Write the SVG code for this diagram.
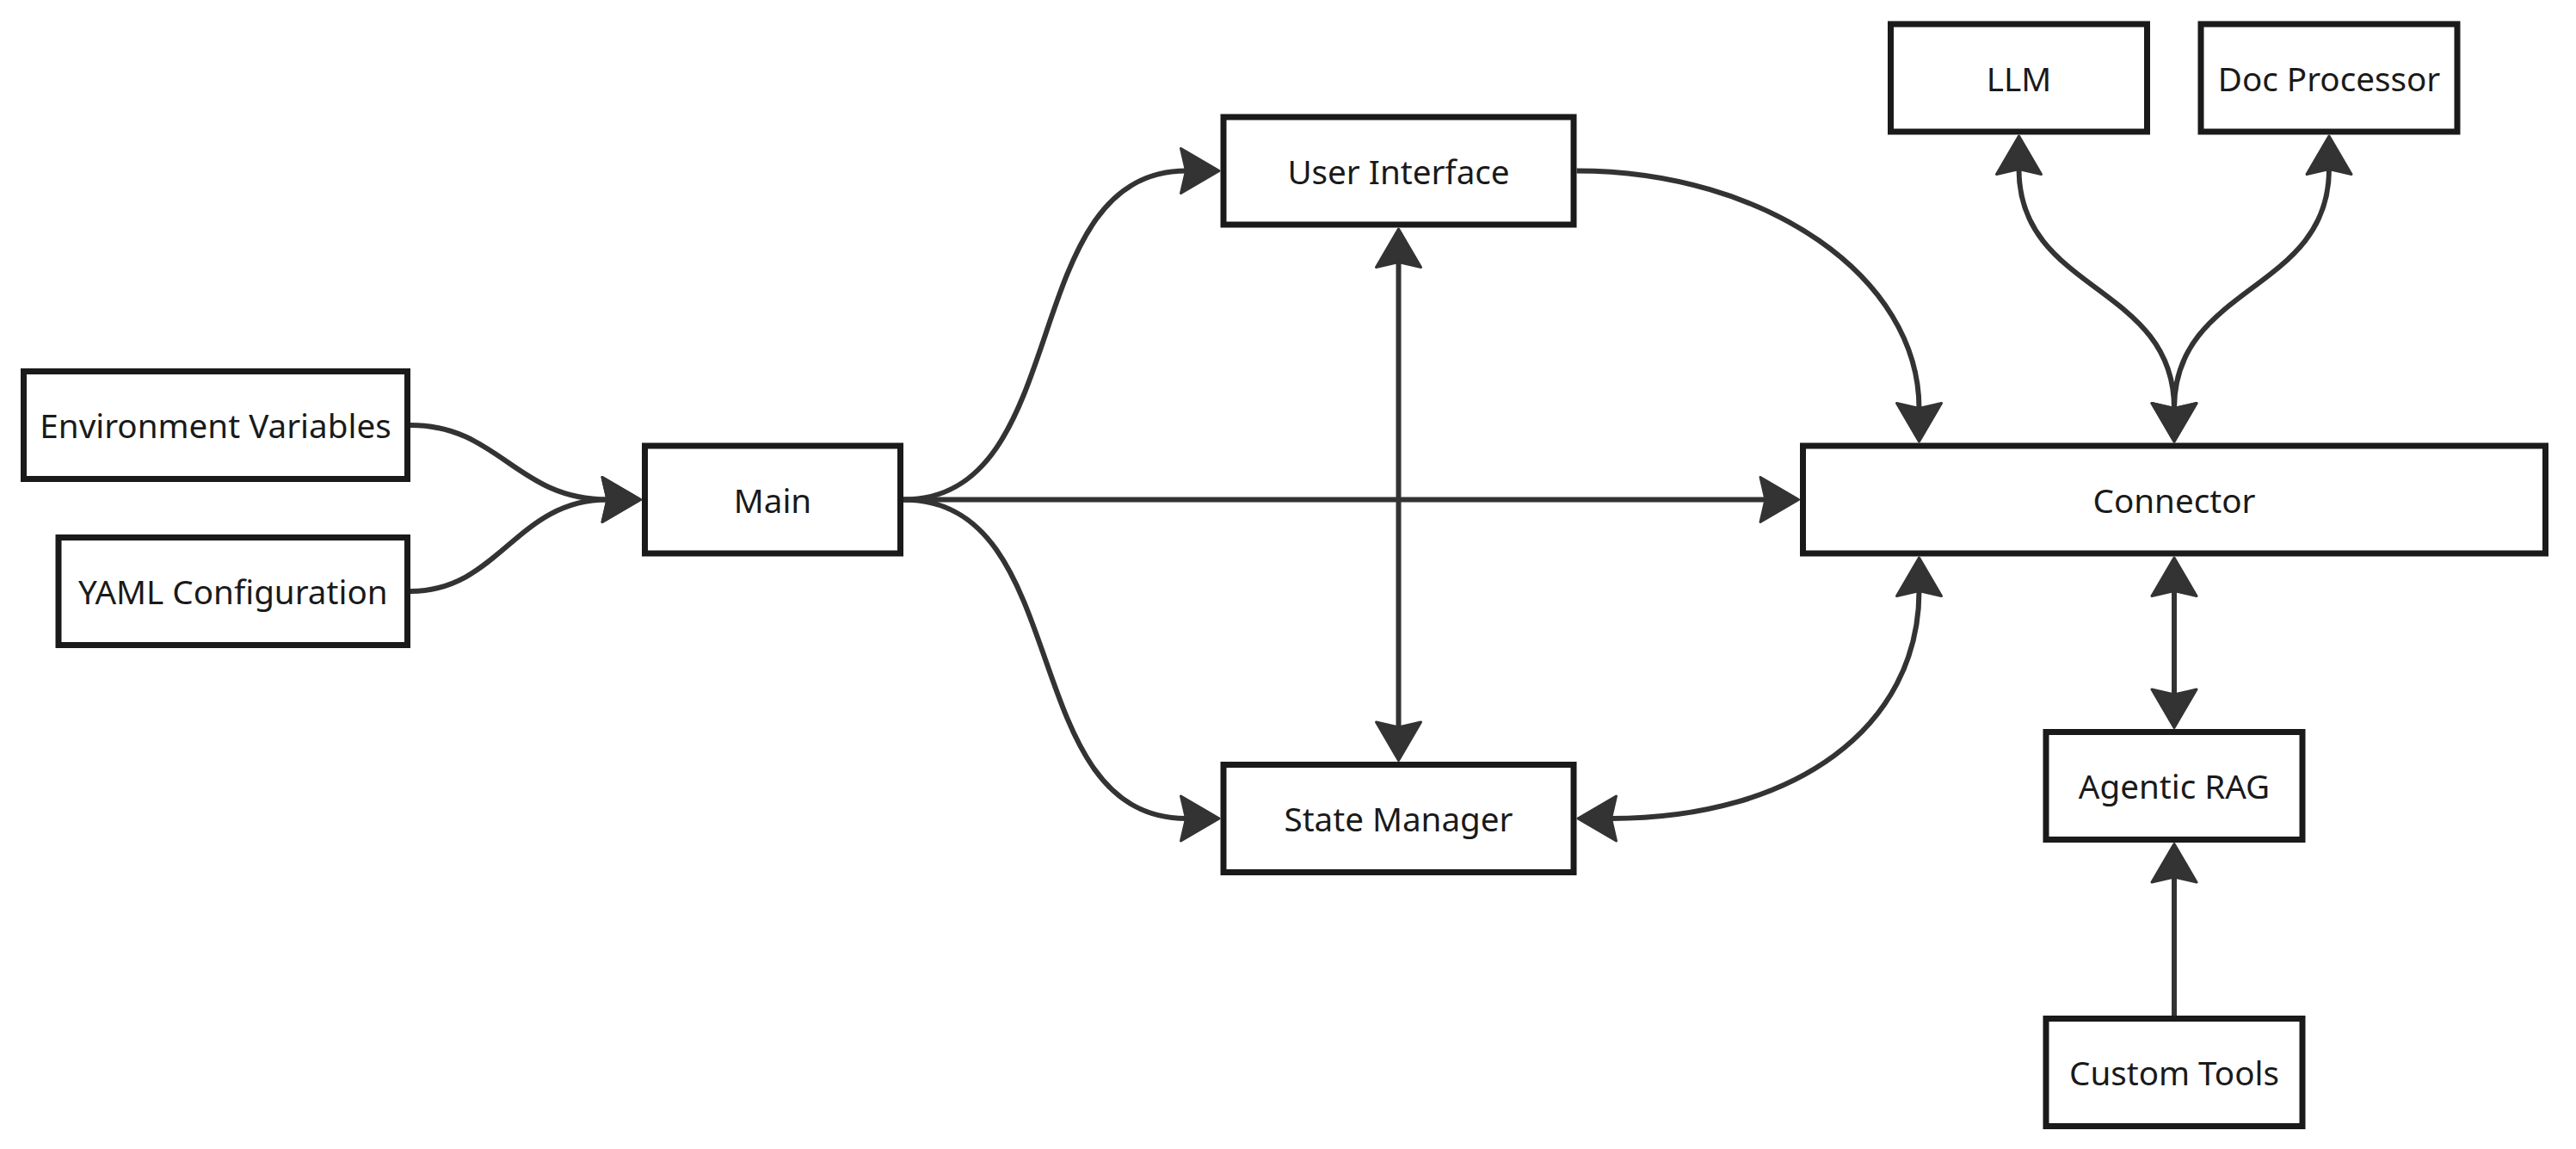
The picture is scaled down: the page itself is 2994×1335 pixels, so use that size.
<svg xmlns="http://www.w3.org/2000/svg" width="2994" height="1335" viewBox="0 0 2994 1335">
<style>
.node rect{fill:#ffffff;stroke:#1a1a1a;stroke-width:7}
.node text{font-family:"Noto Sans","Open Sans","DejaVu Sans",sans-serif;font-size:38.6px;fill:#1a1a1a;text-anchor:middle}
.edge{fill:none;stroke:#333333;stroke-width:6}
</style>
<defs>
<marker id="arrow" markerUnits="userSpaceOnUse" viewBox="-10 -30 55 60" markerWidth="55" markerHeight="60" refX="0" refY="0" orient="auto-start-reverse">
<path d="M-6,-26 L38.5,0 L-6,26 L0,0 Z" fill="#333333" stroke="#333333" stroke-width="3" stroke-linejoin="round"/>
</marker>
</defs>
<rect width="2994" height="1335" fill="#ffffff"/>
<g id="nodes">
<g id="env" class="node"><rect x="27.5" y="431.5" width="446" height="125"/><text x="250.5" y="509">Environment Variables</text></g>
<g id="yaml" class="node"><rect x="68" y="624.5" width="405.5" height="125"/><text x="270.75" y="702">YAML Configuration</text></g>
<g id="main" class="node"><rect x="749.5" y="518" width="297" height="125"/><text x="898" y="595.5">Main</text></g>
<g id="ui" class="node"><rect x="1422" y="136" width="407" height="125"/><text x="1625.5" y="213.5">User Interface</text></g>
<g id="state" class="node"><rect x="1422" y="888.5" width="407" height="125"/><text x="1625.5" y="966">State Manager</text></g>
<g id="connector" class="node"><rect x="2095.5" y="518" width="863" height="125"/><text x="2527" y="595.5">Connector</text></g>
<g id="llm" class="node"><rect x="2197.5" y="28" width="298" height="125"/><text x="2346.5" y="105.5">LLM</text></g>
<g id="doc" class="node"><rect x="2558" y="28" width="298" height="125"/><text x="2707" y="105.5">Doc Processor</text></g>
<g id="rag" class="node"><rect x="2378" y="850.5" width="298" height="125"/><text x="2527" y="928">Agentic RAG</text></g>
<g id="tools" class="node"><rect x="2378" y="1183.5" width="298" height="125"/><text x="2527" y="1261">Custom Tools</text></g>
</g>
<g id="connectors">
<path class="edge" d="M477,494 C580,494 600,580.5 706,580.5" marker-end="url(#arrow)"/>
<path class="edge" d="M477,687 C580,687 600,580.5 706,580.5" marker-end="url(#arrow)"/>
<path class="edge" d="M1050,580.5 C1250,580.5 1180,198.5 1378.5,198.5" marker-end="url(#arrow)"/>
<path class="edge" d="M1050,580.5 C1250,580.5 1180,951 1378.5,951" marker-end="url(#arrow)"/>
<path class="edge" d="M1050,580.5 L2052,580.5" marker-end="url(#arrow)"/>
<path class="edge" d="M1832.5,198.5 C2052,198.5 2230.5,322 2230.5,474.5" marker-end="url(#arrow)"/>
<path class="edge" d="M1625.5,304.5 L1625.5,845" marker-start="url(#arrow)" marker-end="url(#arrow)"/>
<path class="edge" d="M2230.5,686.5 C2230.5,845 2086,951 1872.5,951" marker-start="url(#arrow)" marker-end="url(#arrow)"/>
<path class="edge" d="M2346.5,196.5 C2346.5,340 2527,330 2527,474.5" marker-start="url(#arrow)" marker-end="url(#arrow)"/>
<path class="edge" d="M2707,196.5 C2707,340 2527,330 2527,474.5" marker-start="url(#arrow)" marker-end="url(#arrow)"/>
<path class="edge" d="M2527,686.5 L2527,807" marker-start="url(#arrow)" marker-end="url(#arrow)"/>
<path class="edge" d="M2527,1180 L2527,1019" marker-end="url(#arrow)"/>
</g>
</svg>
